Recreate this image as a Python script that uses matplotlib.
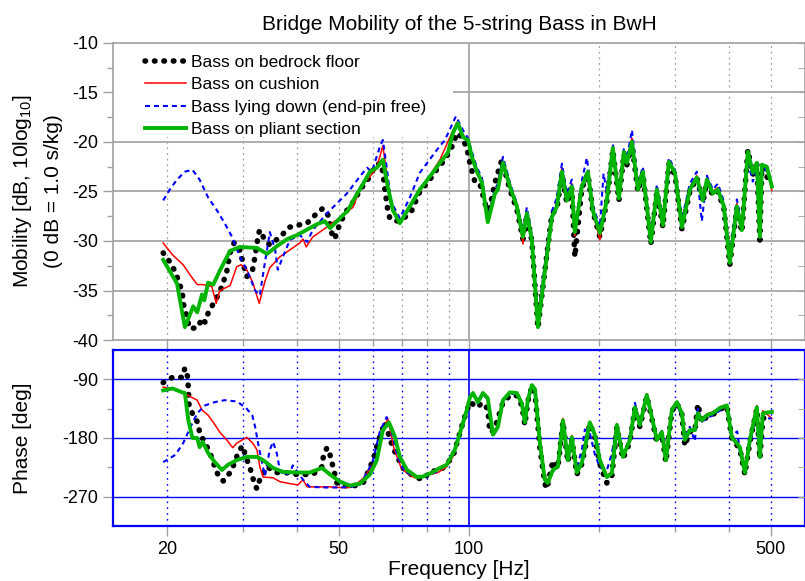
import numpy as np
import matplotlib
matplotlib.use("Agg")
import matplotlib.pyplot as plt
from matplotlib.ticker import FixedLocator, NullFormatter, FixedFormatter
from matplotlib.patches import Rectangle

plt.rcParams['font.family'] = ['Liberation Sans', 'DejaVu Sans']
plt.rcParams['mathtext.fontset'] = 'custom'
plt.rcParams['mathtext.rm'] = 'Liberation Sans'
plt.rcParams['mathtext.it'] = 'Liberation Sans'
plt.rcParams['axes.unicode_minus'] = False

# --- magnitude (dB) ---
f_bed = [19.6, 20.3, 20.9, 21.3, 21.7, 21.9, 22.3, 22.5, 23.2, 23.6, 24.1, 24.5, 24.9, 25.4, 26.1, 26.8,
         27.5, 28.0, 28.6, 29.4, 30.2, 30.6, 31.5, 31.8, 32.0, 32.3, 32.5, 32.8, 33.7, 34.6, 36.5, 38.5,
         40.2, 42.2, 44.0, 45.9, 47.2, 48.2, 48.9, 50.3, 52.2, 53.9, 56.5, 59.0, 60.0, 62.2, 63.2, 63.9,
         64.9, 65.6, 67.4, 70.0, 73.8, 77.0, 81.2, 84.8, 88.0, 91.8, 93.8, 96.3, 98.9, 100.5, 103.2, 106.0,
         110.1, 111.8, 114.9, 119.2, 124.4, 129.1, 133.4, 136.2, 139.9, 144.5, 148.4, 155.6, 159.9, 164.2,
         168.6, 173.1, 175.9, 182.6, 188.6, 193.6, 201, 208.6, 215.4, 222.5, 228.5, 232.2, 238.5, 246.2,
         252.8, 263.8, 272.4, 281.3, 290.4, 299.9, 311.3, 324.8, 337.1, 348.1, 355.6, 367.1, 377.1, 389.3,
         401.9, 417.2, 428.5, 442.4, 454.4, 464.2, 471.7, 476.7, 489.6, 502.8]
mag_bed = [-31.2, -32.1, -33.1, -34.1, -35.2, -36.7, -37.8, -38.8, -38.8, -38.7, -37.8, -38.2, -37.3, -36.6, -35.7, -34.6,
           -33.1, -31.2, -30.2, -30.7, -32.7, -33.6, -33.1, -32.2, -31.4, -30.4, -29.4, -28.9, -29.9, -30.4, -29.6, -28.6,
           -28.4, -28.2, -27.4, -26.7, -27.4, -29.3, -29.8, -28.2, -26.9, -26.1, -24.6, -23.5, -22.8, -22.1, -23.0, -24.8,
           -26.9, -27.7, -28.0, -27.9, -26.9, -25.0, -23.8, -22.6, -21.8, -20.3, -19.1, -19.5, -20.6, -22.1, -24.0, -24.2,
           -26.9, -26.6, -24.1, -21.8, -24.8, -26.8, -29.8, -27.4, -30.0, -38.8, -34.6, -27.3, -26.7, -23.2,
           -26.2, -24.7, -31.6, -24.7, -23.2, -27.0, -29.6, -26.0, -20.8, -25.9, -21.2, -22.3, -20.2, -25.0,
           -23.2, -30.3, -25.0, -28.6, -22.2, -23.3, -28.8, -25.0, -23.6, -26.1, -24.0, -25.4, -25.0, -26.7,
           -32.4, -26.7, -29.1, -20.8, -23.3, -22.3, -29.9, -22.5, -23.5, -24.2]

f_cush = [19.6, 20.6, 21.8, 22.6, 23.5, 24.2, 25.4, 26.0, 26.5, 28.0, 29.0, 29.7, 30.6, 31.6, 32.7, 33.7,
          34.6, 36.5, 38.5, 40.6, 41.3, 42.0, 43.5, 46.9, 50.3, 53.9, 56.5, 59.0, 61.2, 63.2, 64.0, 65.6,
          69.2, 73.0, 77.0, 81.2, 85.7, 90.4, 93.8, 96.9, 99.5, 101.6, 104.4, 107.2, 110.6, 114.9, 116.7, 119.9,
          124.4, 129.1, 133.4, 136.2, 139.9, 144.5, 148.4, 155.6, 159.9, 164.2, 168.6, 173.1, 175.9, 182.6,
          188.6, 193.6, 201, 208.6, 215.4, 222.5, 228.5, 232.2, 238.5, 246.2, 252.8, 263.8, 272.4, 281.3,
          290.4, 299.9, 311.3, 324.8, 337.1, 348.1, 355.6, 367.1, 377.1, 389.3, 401.9, 417.2, 428.5, 442.4,
          454.4, 464.2, 471.7, 476.7, 489.6, 502.8]
mag_cush = [-30.2, -31.4, -32.4, -33.4, -34.4, -34.4, -34.6, -36.3, -35.0, -34.5, -32.6, -32.4, -32.9, -34.2, -36.3, -34.1,
            -32.7, -31.6, -30.9, -30.2, -29.8, -30.6, -29.6, -28.6, -27.6, -26.6, -24.3, -23.5, -22.6, -20.4, -22.0, -25.9,
            -28.1, -26.7, -24.9, -23.4, -21.8, -19.5, -18.0, -19.3, -19.8, -21.3, -22.8, -24.0, -28.0, -25.0, -24.6, -22.0,
            -24.3, -26.5, -30.3, -27.0, -29.8, -38.5, -34.4, -27.4, -26.3, -22.6, -25.5, -24.2, -29.5, -24.4,
            -23.0, -27.0, -29.9, -25.8, -20.5, -25.5, -20.8, -21.9, -19.6, -24.6, -22.8, -30.1, -24.6, -28.2,
            -22.0, -23.0, -28.4, -24.6, -23.4, -25.6, -23.6, -25.0, -24.6, -26.3, -31.5, -26.2, -28.5, -21.0,
            -23.0, -22.0, -29.3, -22.4, -22.6, -24.9]

f_lying = [19.6, 20.3, 21.1, 22.0, 22.9, 23.8, 24.9, 26.1, 27.2, 28.3, 29.5, 30.8, 32.0, 32.8, 33.7, 34.3,
           34.6, 35.6, 36.1, 37.1, 38.5, 40.6, 42.2, 43.5, 46.9, 49.5, 52.2, 55.9, 58.1, 59.6, 62.2, 63.2,
           64.5, 66.0, 69.2, 73.0, 77.0, 84.3, 88.0, 93.3, 96.9, 99.5, 101.6, 104.4, 107.2, 110.6, 114.9, 116.7,
           119.9, 124.4, 129.1, 133.4, 136.2, 139.9, 144.5, 148.4, 155.6, 159.9, 164.2, 168.6, 173.1, 175.9,
           182.6, 187.6, 193.6, 201, 205, 208.6, 215.4, 222.5, 228.5, 232.2, 238.5, 246.2, 252.8, 263.8,
           272.4, 281.3, 290.4, 299.9, 311.3, 324.8, 337.1, 346.2, 355.6, 367.1, 377.1, 389.3, 401.9, 417.2,
           428.5, 442.4, 454.4, 464.2, 471.7, 476.7, 489.6, 502.8]
mag_lying = [-25.9, -24.8, -23.8, -23.0, -22.8, -23.8, -25.6, -26.9, -28.2, -29.6, -31.6, -33.2, -35.0, -35.5, -32.2, -30.2,
             -29.1, -30.9, -32.9, -31.6, -29.9, -29.4, -30.1, -28.9, -27.2, -26.2, -25.2, -23.5, -22.6, -23.0, -20.5, -19.8,
             -22.5, -26.0, -27.7, -25.6, -23.1, -20.8, -19.8, -17.4, -18.8, -19.6, -21.0, -22.6, -23.6, -27.6, -24.8, -24.2,
             -21.5, -24.1, -26.2, -28.9, -26.6, -29.4, -37.8, -33.8, -27.0, -25.6, -22.2, -25.2, -23.8, -28.6,
             -23.9, -21.6, -26.4, -28.6, -23.2, -25.0, -20.2, -25.2, -20.6, -21.6, -18.8, -24.2, -22.5, -29.6,
             -24.3, -27.9, -21.6, -22.8, -27.8, -24.2, -23.0, -28.0, -23.4, -24.8, -24.2, -26.0, -31.5, -25.8,
             -28.3, -22.0, -24.0, -22.4, -28.8, -22.2, -23.0, -24.0]

f_pliant = [19.6, 21.1, 22.0, 23.0, 23.5, 24.1, 24.4, 24.9, 25.6, 26.5, 28.0, 29.5, 32.3, 34.1, 36.0, 38.0,
            40.0, 44.5, 46.4, 47.7, 50.3, 52.5, 54.0, 57.1, 59.0, 61.2, 63.2, 64.9, 66.7, 69.2, 73.0, 77.0,
            81.2, 85.7, 89.4, 91.8, 94.3, 96.9, 99.5, 101.6, 104.4, 107.2, 110.6, 114.9, 116.7, 119.9, 124.4, 129.1,
            133.4, 136.2, 139.9, 144.5, 148.4, 155.6, 159.9, 164.2, 168.6, 173.1, 175.9, 182.6, 188.6, 193.6,
            201, 208.6, 215.4, 222.5, 228.5, 232.2, 238.5, 246.2, 252.8, 263.8, 272.4, 281.3, 290.4, 299.9,
            311.3, 324.8, 337.1, 348.1, 355.6, 367.1, 377.1, 389.3, 401.9, 417.2, 428.5, 442.4, 454.4, 464.2,
            471.7, 476.7, 489.6, 502.8]
mag_pliant = [-31.9, -34.3, -38.7, -36.6, -37.2, -35.4, -36.0, -34.2, -34.4, -33.0, -31.0, -30.6, -30.7, -31.3, -30.5, -29.8,
              -29.4, -28.3, -28.0, -28.7, -27.7, -26.9, -25.9, -24.1, -23.0, -22.6, -21.8, -24.5, -26.9, -28.2, -26.5, -24.8,
              -23.5, -22.1, -21.1, -19.1, -18.1, -19.5, -19.8, -21.5, -23.0, -24.1, -28.1, -25.2, -24.8, -22.1, -24.5, -26.5,
              -29.6, -27.2, -29.9, -38.7, -34.6, -27.6, -26.5, -23.0, -25.9, -24.5, -29.1, -24.5, -23.0, -26.9,
              -29.2, -25.9, -20.6, -25.7, -21.0, -22.1, -20.0, -24.8, -23.0, -30.1, -24.8, -28.4, -22.0, -23.1,
              -28.6, -24.8, -23.6, -25.9, -23.8, -25.2, -24.8, -26.5, -32.2, -26.5, -28.9, -21.0, -23.1, -22.1,
              -29.6, -22.3, -22.5, -24.5]

# --- phase (deg) ---
pf_bed = [19.6, 20.6, 21.7, 22.0, 22.3, 22.4, 22.5, 23.0, 23.6, 23.8, 24.5, 25.1, 25.8, 26.3, 27.0, 28.0,
          28.7, 29.2, 29.9, 30.8, 31.5, 31.8, 32.3, 32.8, 34.1, 35.6, 37.5, 40.0, 43.5, 45.7, 46.0, 46.9,
          47.7, 48.2, 49.5, 51.0, 54.0, 57.0, 60.0, 61.6, 63.9, 66.0, 67.4, 70.3, 74.5, 78.3, 81.2, 86.5,
          91.8, 93.8, 97.5, 100.5, 104.9, 107.0, 110.6, 111.8, 114.5, 116.7, 119.9, 124.4, 129.1, 132.6,
          134.8, 136.9, 139.9, 142.2, 146.0, 149.9, 151.5, 156.5, 160.7, 165.1, 169.5, 173.1, 177.8, 182.6,
          185.6, 190.5, 195.7, 201, 208.6, 214.3, 220.1, 227.3, 235.9, 242.3, 248.8, 258.2, 265.2, 272.4,
          279.8, 285.8, 295.1, 303.1, 311.3, 316.2, 324.8, 333.5, 338.9, 346.2, 355.6, 367.1, 381.1, 395.5,
          406.3, 424.0, 435.5, 447.2, 464.2, 471.7, 479.2, 502.8]
ph_bed = [-95, -87, -87, -73, -85, -101, -131, -145, -157, -172, -188, -201, -224, -238, -246, -233,
          -218, -203, -192, -218, -236, -249, -258, -244, -224, -233, -233, -236, -236, -224, -210, -195,
          -206, -218, -249, -253, -254, -248, -214, -186, -156, -186, -201, -226, -239, -244, -232, -228,
          -209, -188, -150, -125, -133, -126, -135, -171, -168, -150, -126, -115, -115, -130,
          -160, -124, -101, -110, -195, -250, -258, -215, -226, -155, -217, -182, -236, -220,
          -197, -158, -178, -220, -249, -238, -163, -212, -186, -135, -163, -116, -150, -186,
          -174, -217, -139, -127, -144, -192, -170, -170, -128, -156, -147, -144, -136, -131,
          -181, -197, -236, -186, -135, -212, -150, -145]

pf_cush = [19.6, 20.6, 21.8, 23.5, 24.1, 24.9, 25.6, 26.5, 27.5, 28.4, 29.0, 30.6, 31.6, 32.3, 32.8, 33.4,
           35.2, 36.5, 38.5, 40.2, 41.3, 42.2, 44.5, 47.7, 50.3, 53.0, 54.6, 57.1, 59.6, 61.2, 63.0, 64.9,
           67.0, 69.7, 72.5, 75.0, 81.2, 84.8, 88.9, 91.8, 95.5, 98.9, 100.5, 102.2, 104.9, 107.8, 110.6, 113.7,
           116.7, 119.9, 124.4, 129.1, 132.6, 134.8, 136.9, 139.9, 142.2, 146.0, 149.9, 152.3, 156.5, 160.7,
           165.1, 169.5, 173.1, 177.8, 182.6, 185.6, 190.5, 195.7, 201, 208.6, 214.3, 220.1, 227.3, 235.9,
           242.3, 248.8, 258.2, 265.2, 272.4, 279.8, 285.8, 295.1, 303.1, 311.3, 316.2, 324.8, 333.5, 338.9,
           346.2, 355.6, 367.1, 381.1, 395.5, 406.3, 424.0, 435.5, 447.2, 464.2, 471.7, 479.2, 502.8]
ph_cush = [-102, -104, -111, -122, -137, -145, -156, -171, -183, -195, -188, -179, -188, -198, -224, -240,
           -241, -247, -250, -252, -244, -255, -255, -255, -256, -256, -252, -241, -224, -214, -175, -150,
           -195, -226, -236, -241, -236, -233, -224, -209, -170, -138, -119, -112, -126, -112, -120, -174,
           -162, -121, -110, -111, -126, -152, -121, -99, -106, -184, -240, -245, -227, -222,
           -150, -212, -176, -230, -216, -197, -156, -172, -211, -237, -232, -158, -207, -183,
           -131, -158, -112, -146, -181, -174, -216, -137, -124, -141, -185, -168, -166, -140,
           -150, -143, -140, -133, -129, -177, -192, -230, -180, -130, -205, -138, -150]

pf_lying = [19.6, 20.9, 21.8, 22.6, 23.5, 24.5, 25.8, 27.2, 29.0, 30.4, 31.5, 32.0, 32.5, 33.1, 33.7, 34.6,
            35.2, 35.9, 36.5, 37.1, 38.5, 39.1, 40.2, 41.3, 42.8, 46.9, 50.3, 53.5, 55.9, 58.1, 60.0, 62.2,
            64.5, 66.5, 68.5, 71.0, 75.8, 80.0, 84.0, 88.9, 92.8, 96.3, 98.9, 100.5, 102.2, 104.9, 107.8, 110.6,
            113.7, 116.7, 119.9, 124.4, 129.1, 132.6, 134.8, 136.9, 139.9, 142.2, 146.0, 149.9, 152.3, 156.5,
            160.7, 165.1, 169.5, 173.1, 177.8, 182.6, 185.6, 190.5, 195.7, 201, 208.6, 214.3, 220.1, 227.3,
            235.9, 242.3, 248.8, 258.2, 265.2, 272.4, 279.8, 285.8, 295.1, 303.1, 311.3, 316.2, 324.8, 333.5,
            338.9, 346.2, 355.6, 367.1, 381.1, 395.5, 406.3, 418.0, 424.0, 435.5, 447.2, 464.2, 471.7, 479.2, 502.8]
ph_lying = [-217, -206, -188, -165, -142, -130, -125, -122, -124, -133, -145, -163, -188, -214, -238, -198,
            -186, -203, -229, -236, -234, -222, -233, -244, -255, -256, -256, -255, -252, -233, -214, -170,
            -148, -175, -210, -232, -240, -238, -232, -221, -196, -162, -138, -119, -113, -127, -113, -121,
            -177, -165, -124, -112, -113, -129, -158, -124, -101, -107, -192, -242, -246, -231,
            -226, -155, -212, -181, -225, -198, -167, -172, -205, -225, -230, -203, -162, -205,
            -180, -126, -158, -116, -150, -180, -169, -210, -140, -128, -148, -175, -163, -185,
            -135, -155, -150, -145, -138, -132, -176, -170, -200, -228, -190, -140, -195, -150, -150]

pf_pliant = [19.6, 20.6, 21.7, 22.0, 22.4, 22.9, 23.5, 23.8, 24.2, 24.9, 25.8, 26.8, 27.7, 29.0, 30.6, 32.3,
             33.4, 35.2, 37.1, 40.0, 42.8, 45.7, 47.7, 50.3, 53.0, 55.9, 59.0, 61.2, 63.2, 65.3, 67.4, 69.2,
             71.9, 75.8, 78.3, 82.1, 85.7, 88.9, 92.8, 96.3, 98.9, 100.5, 102.2, 104.9, 107.8, 110.6, 113.7, 116.7,
             119.9, 124.4, 129.1, 132.6, 134.8, 136.9, 139.9, 142.2, 146.0, 149.9, 152.3, 156.5, 160.7, 165.1,
             169.5, 173.1, 177.8, 182.6, 185.6, 190.5, 195.7, 201, 208.6, 214.3, 220.1, 227.3, 235.9, 242.3,
             248.8, 258.2, 265.2, 272.4, 279.8, 285.8, 295.1, 303.1, 311.3, 316.2, 324.8, 333.5, 338.9, 346.2,
             355.6, 367.1, 381.1, 395.5, 406.3, 424.0, 435.5, 447.2, 464.2, 471.7, 479.2, 502.8]
ph_pliant = [-107, -104, -110, -111, -152, -180, -180, -194, -186, -203, -217, -229, -221, -214, -209, -209,
             -214, -226, -232, -233, -233, -226, -236, -247, -253, -250, -236, -214, -168, -156, -178, -209,
             -229, -240, -239, -233, -226, -221, -198, -163, -137, -118, -111, -125, -111, -119, -175, -163,
             -122, -110, -111, -127, -156, -122, -99, -105, -188, -244, -249, -229, -224, -153,
             -214, -179, -233, -218, -195, -156, -175, -214, -240, -234, -160, -209, -183, -133,
             -160, -114, -148, -183, -171, -214, -137, -125, -142, -183, -168, -168, -142, -153,
             -145, -142, -134, -130, -179, -194, -233, -183, -133, -209, -142, -140]

labels = ['Bass on bedrock floor', 'Bass on cushion', 'Bass lying down (end-pin free)', 'Bass on pliant section']
grid_freqs = [20, 30, 40, 50, 60, 70, 80, 90, 200, 300, 400, 500]

grey = '#a0a0a0'
green = '#00b400'

fig = plt.figure(figsize=(8.05, 5.81), dpi=100)
ax1 = fig.add_axes([0.1404, 0.4148, 0.8596, 0.5112])
ax2 = fig.add_axes([0.1404, 0.0947, 0.8596, 0.3029])


def draw(ax, fb, yb, fc, yc, fl, yl, fp, yp):
    ax.plot(fb, yb, color='k', lw=4, linestyle=(0, (0.1, 1.6)), dash_capstyle='round', label=labels[0])
    ax.plot(fc, yc, color='red', lw=1.1, label=labels[1])
    ax.plot(fl, yl, color='blue', lw=1.5, linestyle=(0, (2.4, 1.9)), label=labels[2])
    ax.plot(fp, yp, color=green, lw=2.8, label=labels[3])


draw(ax1, f_bed, mag_bed, f_cush, mag_cush, f_lying, mag_lying, f_pliant, mag_pliant)
draw(ax2, pf_bed, ph_bed, pf_cush, ph_cush, pf_lying, ph_lying, pf_pliant, ph_pliant)

for ax in (ax1, ax2):
    ax.set_xscale('log')
    ax.set_xlim(15, 600)
    ax.xaxis.set_major_locator(FixedLocator([20, 50, 100, 500]))
    ax.xaxis.set_minor_locator(FixedLocator(grid_freqs))
    ax.xaxis.set_minor_formatter(NullFormatter())
    ax.tick_params(axis='both', which='major', direction='out', length=7, width=1, color=grey, labelsize=13)
    ax.tick_params(axis='both', which='minor', direction='out', length=4, width=1, color=grey)

# top panel: magnitude
ax1.set_ylim(-40, -10)
ax1.set_yticks([-40, -35, -30, -25, -20, -15, -10])
ax1.set_yticks([-37.5, -32.5, -27.5, -22.5, -17.5, -12.5], minor=True)
ax1.xaxis.set_major_formatter(NullFormatter())
for v in [-35, -30, -25, -20, -15]:
    ax1.axhline(v, color=grey, lw=1.2, zorder=0)
for f in grid_freqs:
    ax1.axvline(f, color=grey, lw=0.9, ls=(0, (1.5, 3)), zorder=0)
ax1.axvline(100, color=grey, lw=1.2, zorder=0)
for s in ax1.spines.values():
    s.set_color(grey)
    s.set_linewidth(1.2)
# white panel behind the legend hides the grid there
ax1.add_patch(Rectangle((0, 0.685), 0.491, 0.315, transform=ax1.transAxes,
                        facecolor='white', edgecolor='none', zorder=0.5))
ax1.set_ylabel('Mobility [dB, 10log$_{10}$]\n(0 dB = 1.0 s/kg)', fontsize=15, linespacing=1.65)
ax1.yaxis.set_label_coords(-0.072, 0.5)
ax1.set_title('Bridge Mobility of the 5-string Bass in BwH', fontsize=15, pad=9)

leg = ax1.legend(loc='upper left', bbox_to_anchor=(0.033, 0.99), fontsize=12.5, handlelength=2.4,
                 handletextpad=0.3, labelspacing=0.42, borderpad=0.5, borderaxespad=0.0,
                 frameon=False)
leg.set_zorder(5)

# bottom panel: phase
ax2.set_ylim(-315, -45)
ax2.set_yticks([-270, -180, -90])
ax2.set_yticks([-225, -135], minor=True)
ax2.xaxis.set_major_formatter(FixedFormatter(['20', '50', '100', '500']))
for v in [-270, -180, -90]:
    ax2.axhline(v, color='blue', lw=1.0, zorder=0)
for f in grid_freqs:
    ax2.axvline(f, color='blue', lw=1.0, ls=(0, (1.2, 3)), zorder=0)
ax2.axvline(100, color='blue', lw=1.2, zorder=0)
for s in ax2.spines.values():
    s.set_color('blue')
    s.set_linewidth(1.6)
ax2.set_ylabel('Phase [deg]', fontsize=15)
ax2.yaxis.set_label_coords(-0.117, 0.5)
ax2.set_xlabel('Frequency [Hz]', fontsize=15, labelpad=2)

# inward ticks on the right-hand side
for ax in (ax1, ax2):
    axr = ax.twinx()
    axr.set_ylim(ax.get_ylim())
    axr.set_yticks(ax.get_yticks())
    axr.set_yticks(ax.get_yticks(minor=True), minor=True)
    axr.tick_params(axis='y', which='both', direction='in', length=5, color=grey, labelright=False)
    for s in axr.spines.values():
        s.set_visible(False)

fig.savefig('out.png', dpi=100)
